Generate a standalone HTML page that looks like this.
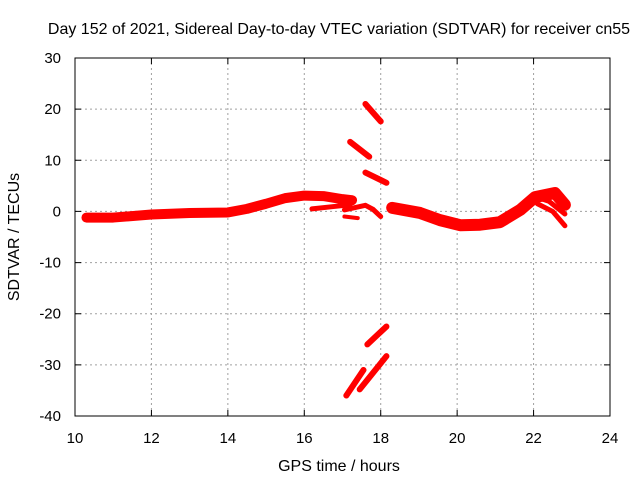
<!DOCTYPE html>
<html><head><meta charset="utf-8"><style>
body{margin:0;background:#fff;}
svg{display:block;font-family:"Liberation Sans",sans-serif;}
</style></head><body>
<svg id="chart" width="640" height="480">
<text x="339" y="34" font-size="16" text-anchor="middle">Day 152 of 2021, Sidereal Day-to-day VTEC variation (SDTVAR) for receiver cn55</text>
<text x="339" y="471" font-size="16" text-anchor="middle">GPS time / hours</text>
<text x="19" y="237" font-size="16" text-anchor="middle" transform="rotate(-90 19 237)">SDTVAR / TECUs</text>
<g id="grid"></g><g id="ticks"></g><g id="series"></g>
<rect x="75" y="58" width="535" height="358" fill="none" stroke="#000" stroke-width="1"/>
</svg>
<script>
const xTicks=[10,12,14,16,18,20,22,24];
const yTicks=[30,20,10,0,-10,-20,-30,-40];
// tracks: [hour, value] pairs
const trackMain=[[10.3,-1.2],[11,-1.2],[12,-0.6],[13,-0.3],[14,-0.2],[14.5,0.5],[15,1.5],[15.5,2.6],[16,3.1],[16.5,3.0],[17,2.4],[17.25,2.2]];
const trackMainLow=[[16.2,0.5],[16.7,0.9],[17.2,1.3]];
const segC=[[17.2,13.6],[17.7,10.7]];
const segD=[[17.6,21],[18.0,17.6]];
const segE=[[17.6,7.6],[18.15,5.6]];
const segF=[[17.05,0.3],[17.3,0.7],[17.6,1.2],[17.8,0.4],[18.0,-1.0]];
const segG=[[17.05,-1.0],[17.4,-1.3]];
const trackRight=[[18.3,0.7],[19.03,-0.3],[19.55,-1.7],[20.08,-2.7],[20.6,-2.6],[21.12,-2.1],[21.65,0.3],[22.04,2.8],[22.56,3.6],[22.82,1.3]];
const trackRight2=[[22.1,1.5],[22.5,0],[22.82,-2.8]];
const trackRight3=[[22.0,3.0],[22.4,2.0],[22.82,-0.5]];
const segH=[[17.1,-36],[17.55,-31]];
const segI=[[17.45,-34.8],[18.15,-28.3]];
const segJ=[[17.65,-26],[18.15,-22.5]];
const tracks=[trackMain,trackMainLow,segC,segD,segE,segF,segG,trackRight,trackRight2,trackRight3,segH,segI,segJ];
const widths=[10,5,6,6,6,5,4,12,5,5,6,6,6];
const X=h=>75+(h-10)*(535/14);
const Y=v=>58+(30-v)*(358/70);
const NS="http://www.w3.org/2000/svg";
const grid=document.getElementById('grid'),ticks=document.getElementById('ticks'),ser=document.getElementById('series');
xTicks.forEach(t=>{
 const x=X(t);
 if(t>10&&t<24){const l=document.createElementNS(NS,'line');
 l.setAttribute('x1',x);l.setAttribute('x2',x);l.setAttribute('y1',58);l.setAttribute('y2',416);
 l.setAttribute('stroke','#a0a0a0');l.setAttribute('stroke-dasharray','2,3');
 
 
 grid.appendChild(l);}
 const tk=document.createElementNS(NS,'path');
 tk.setAttribute('d',`M${x},416v-6M${x},58v6`);tk.setAttribute('stroke','#000');
 
 
 ticks.appendChild(tk);
 const tx=document.createElementNS(NS,'text');
 tx.setAttribute('x',x);tx.setAttribute('y',443);tx.setAttribute('font-size','15');tx.setAttribute('text-anchor','middle');
 tx.textContent=t;
 
 
 ticks.appendChild(tx);
});
yTicks.forEach(t=>{
 const y=Y(t);
 if(t<30&&t>-40){const l=document.createElementNS(NS,'line');
 l.setAttribute('x1',75);l.setAttribute('x2',610);l.setAttribute('y1',y);l.setAttribute('y2',y);
 l.setAttribute('stroke','#a0a0a0');l.setAttribute('stroke-dasharray','2,3');
 
 
 grid.appendChild(l);}
 const tk=document.createElementNS(NS,'path');
 tk.setAttribute('d',`M75,${y}h6M610,${y}h-6`);tk.setAttribute('stroke','#000');
 
 
 ticks.appendChild(tk);
 const tx=document.createElementNS(NS,'text');
 tx.setAttribute('x',61);tx.setAttribute('y',y+5);tx.setAttribute('font-size','15');tx.setAttribute('text-anchor','end');
 tx.textContent=t;
 
 
 ticks.appendChild(tx);
});
tracks.forEach((tr,i)=>{
 const p=document.createElementNS(NS,'polyline');
 p.setAttribute('points',tr.map(d=>X(d[0])+','+Y(d[1])).join(' '));
 p.setAttribute('fill','none');p.setAttribute('stroke','#ff0000');
 p.setAttribute('stroke-width',widths[i]);p.setAttribute('stroke-linecap','round');p.setAttribute('stroke-linejoin','round');
 
 
 ser.appendChild(p);
});
</script>
</body></html>
